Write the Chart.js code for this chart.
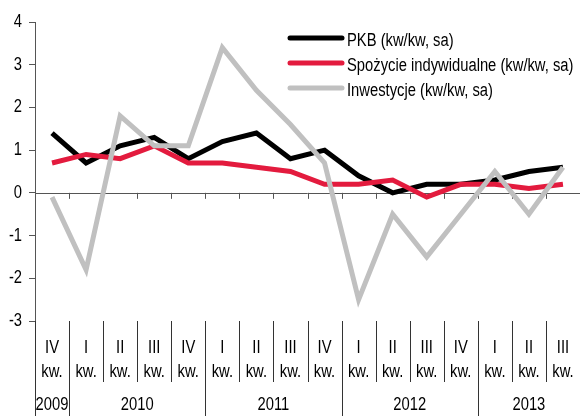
<!DOCTYPE html>
<html>
<head>
<meta charset="utf-8">
<script src="https://cdn.jsdelivr.net/npm/chart.js@4.4.0/dist/chart.umd.min.js"></script>
<style>
  body { margin: 0; background: #fff; }
  #wrap { width: 580px; height: 416px; position: relative; }
</style>
</head>
<body>
<div id="wrap"><canvas id="myChart"></canvas></div>
<script>
const quarters = ['IV', 'I', 'II', 'III', 'IV', 'I', 'II', 'III', 'IV', 'I', 'II', 'III', 'IV', 'I', 'II', 'III']
const years = ['2009', '2010', '2010', '2010', '2010', '2011', '2011', '2011', '2011', '2012', '2012', '2012', '2012', '2013', '2013', '2013']
const pkb = [1.4, 0.7, 1.1, 1.3, 0.8, 1.2, 1.4, 0.8, 1.0, 0.4, 0.0, 0.2, 0.2, 0.3, 0.5, 0.6]
const spozycie = [0.7, 0.9, 0.8, 1.1, 0.7, 0.7, 0.6, 0.5, 0.2, 0.2, 0.3, -0.1, 0.2, 0.2, 0.1, 0.2]
const inwestycje = [-0.1, -1.8, 1.8, 1.1, 1.1, 3.4, 2.4, 1.6, 0.7, -2.5, -0.5, -1.5, -0.5, 0.5, -0.5, 0.6]
const yTicks = [-3, -2, -1, 0, 1, 2, 3, 4]

// no Arial Narrow here, so squeeze Liberation Sans instead
const FONT = "18px 'Liberation Sans', Arial, sans-serif"
const SQUEEZE = 0.82

function narrowText(ctx, text, x, y, align) {
  ctx.save()
  ctx.translate(x, y)
  ctx.scale(SQUEEZE, 1)
  ctx.font = FONT
  ctx.fillStyle = '#000'
  ctx.textAlign = align
  ctx.textBaseline = 'middle'
  ctx.fillText(text, 0, 0)
  ctx.restore()
}

const decor = {
  id: 'decor',
  beforeDatasetsDraw(chart) {
    const { ctx, chartArea } = chart
    const x = chart.scales.x
    const y = chart.scales.y
    const y0 = y.getPixelForValue(0)
    ctx.save()
    ctx.strokeStyle = '#555'
    ctx.lineWidth = 1
    ctx.beginPath()
    ctx.moveTo(chartArea.left, Math.round(y0) + 0.5)
    ctx.lineTo(chartArea.right, Math.round(y0) + 0.5)
    for (let i = 1; i < quarters.length; i++) {
      const bx = Math.round((x.getPixelForValue(i - 1) + x.getPixelForValue(i)) / 2) + 0.5
      ctx.moveTo(bx, y0)
      ctx.lineTo(bx, y0 + 6)
    }
    ctx.stroke()
    ctx.restore()

    // y tick labels
    y.ticks.forEach(t => narrowText(ctx, String(t.value), chartArea.left - 13, y.getPixelForValue(t.value), 'right'))
  },
  afterDraw(chart) {
    const { ctx, chartArea } = chart
    const x = chart.scales.x
    const bottom = chart.height
    const edge = i => (x.getPixelForValue(i - 1) + x.getPixelForValue(i)) / 2

    ctx.save()
    ctx.strokeStyle = '#333'
    ctx.lineWidth = 1
    ctx.beginPath()
    ctx.moveTo(chartArea.left + 0.5, chartArea.bottom)
    ctx.lineTo(chartArea.left + 0.5, bottom)
    for (let i = 1; i < quarters.length; i++) {
      const bx = Math.round(edge(i)) + 0.5
      const newYear = years[i] !== years[i - 1]
      ctx.moveTo(bx, chartArea.bottom)
      ctx.lineTo(bx, newYear ? bottom : chartArea.bottom + 61)
    }
    ctx.stroke()
    ctx.restore()

    // quarter labels
    quarters.forEach((q, i) => {
      const px = x.getPixelForValue(i)
      narrowText(ctx, q, px, chartArea.bottom + 27, 'center')
      narrowText(ctx, 'kw.', px, chartArea.bottom + 51, 'center')
    })

    // year labels, centred on their group of quarters
    let start = 0
    for (let i = 1; i <= years.length; i++) {
      if (i === years.length || years[i] !== years[start]) {
        const l = start === 0 ? chartArea.left : edge(start)
        const r = i === years.length ? chartArea.right : edge(i)
        narrowText(ctx, years[start], (l + r) / 2, chartArea.bottom + 84, 'center')
        start = i
      }
    }

    // legend
    const lx = 290, ly = 38, gap = 25
    chart.data.datasets.forEach((ds, i) => {
      const yy = ly + i * gap
      ctx.save()
      ctx.strokeStyle = ds.borderColor
      ctx.lineWidth = 5
      ctx.lineCap = 'round'
      ctx.beginPath()
      ctx.moveTo(lx, yy)
      ctx.lineTo(lx + 52, yy)
      ctx.stroke()
      ctx.restore()
      narrowText(ctx, ds.label, lx + 57, yy + 3, 'left')
    })
  }
}

const ctx = document.getElementById('myChart')
new Chart(ctx, {
  type: 'line',
  data: {
    labels: quarters.map((q, i) => q + ' kw. ' + years[i]),
    datasets: [
      { label: 'PKB (kw/kw, sa)', data: pkb, borderColor: '#000000', order: 3 },
      { label: 'Spożycie indywidualne (kw/kw, sa)', data: spozycie, borderColor: '#e31b3e', order: 2 },
      { label: 'Inwestycje (kw/kw, sa)', data: inwestycje, borderColor: '#c0c0c0', order: 1 }
    ]
  },
  options: {
    responsive: true,
    maintainAspectRatio: false,
    animation: false,
    layout: { padding: { top: 22, right: -1, left: 0, bottom: 0 } },
    elements: {
      line: { borderWidth: 5, tension: 0, borderCapStyle: 'butt', borderJoinStyle: 'miter' },
      point: { radius: 0 }
    },
    plugins: {
      legend: { display: false },
      tooltip: { enabled: false }
    },
    scales: {
      x: {
        offset: true,
        grid: { display: false, drawTicks: false },
        border: { display: false },
        ticks: { display: false },
        afterFit: s => { s.height = 95 }
      },
      y: {
        min: -3,
        max: 4,
        afterBuildTicks: s => { s.ticks = yTicks.map(v => ({ value: v })) },
        grid: { drawOnChartArea: false, tickLength: 6, color: '#555' },
        border: { display: true, color: '#555' },
        ticks: { display: false },
        afterFit: s => { s.width = 35 }
      }
    }
  },
  plugins: [decor]
})
</script>
</body>
</html>
